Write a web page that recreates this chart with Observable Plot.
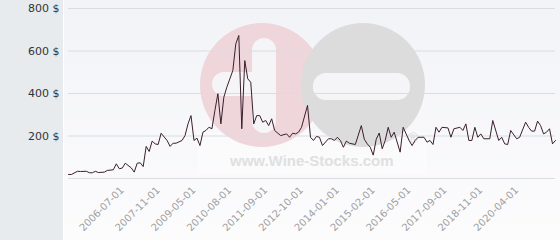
<!DOCTYPE html>
<html><head><meta charset="utf-8">
<script src="https://cdn.jsdelivr.net/npm/d3@7"></script>
<script src="https://cdn.jsdelivr.net/npm/@observablehq/plot@0.6"></script>
<style>
body{margin:0;background:#fff;font-family:"DejaVu Sans",sans-serif;}
#wrap{position:relative;width:560px;height:240px;overflow:hidden;}
#bg{position:absolute;left:0;top:0;width:560px;height:240px;}
#chart{position:absolute;left:0;top:0;}
</style></head><body>
<div id="wrap">
<svg id="bg" width="560" height="240">
  <defs><linearGradient id="g" x1="0" y1="0" x2="0" y2="1">
    <stop offset="0" stop-color="#f2f3f7"/><stop offset="1" stop-color="#fcfcfd"/></linearGradient></defs>
  <rect x="0" y="0" width="63" height="240" fill="#e7ebee"/>
  <rect x="64" y="0" width="496" height="240" fill="url(#g)"/>
  <rect x="197" y="132" width="230" height="42" fill="#ffffff" fill-opacity="0.3"/>
  <circle cx="262" cy="85" r="62" fill="#eed6db"/>
  <rect x="252" y="38" width="24" height="95" rx="12" fill="#f5f5f8"/>
  <rect x="212" y="72" width="52" height="24" rx="12" fill="#f5f5f8"/>
  <circle cx="363" cy="85" r="62" fill="#dcdcdd"/>
  <rect x="313" y="73" width="97" height="27" rx="13" fill="#f5f5f8"/>
  <text x="413" y="143" font-size="14" fill="#d8d8d8" text-anchor="middle" font-family="Liberation Sans">®</text>
  <text x="230" y="166" font-size="15" font-weight="bold" fill="#e0e0e0" font-family="Liberation Sans, Arial, sans-serif">www.Wine-Stocks.com</text>
</svg>
<div id="chart"></div>
</div>
<script>
// series position (observation number) and price in $
const idx = [0,1,3,4,6,7,8,9,10,12,13,15,16,17,18,19,21,22,23,24,25,26,27,28,29,30,31,33,34,35,36,38,39,40,41,42,43,44,45,46,47,48,49,50,51,52,53,55,56,57,58,59,60,61,62,63,64,65,66,67,68,69,71,73,74,75,76,77,78,80,81,82,83,84,85,87,88,89,90,91,92,93,94,96,98,99,100,101,102,103,104,105,106,107,108,109,111,112,114,115,116,117,119,120,121,122,123,124,125,127,128,129,131,132,133,134,135,136,137,138,139,141,142,144,145,146,147,148,150,151,153,154,155,156,157,158,159,160,161,162,163];
const price = [19,19,34,33,34,27,27,34,28,30,38,41,69,46,49,72,50,30,72,74,56,151,127,176,163,160,213,179,151,166,166,179,202,257,296,179,190,155,218,226,241,234,320,399,257,383,430,508,634,673,234,555,469,453,257,296,296,265,273,249,281,226,202,210,194,213,210,218,241,344,194,179,198,194,155,187,187,179,194,179,147,176,166,160,249,185,163,147,110,185,214,140,179,241,194,218,124,241,179,155,179,194,194,171,179,160,241,218,241,238,194,234,241,226,257,179,179,241,194,210,187,187,273,179,194,163,160,226,187,194,265,241,223,223,270,249,210,218,234,163,179];
const tickIdx = [18,30,42,54,66,78,90,102,114,126,138,150];
const tickLabels = ["2006-07-01","2007-11-01","2009-05-01","2010-08-01","2011-09-01","2012-10-01","2014-01-01","2015-02-01","2016-05-01","2017-09-01","2018-11-01","2020-04-01"];
const yTicks = [0,200,400,600,800];

const data = idx.map((i, k) => ({i, p: price[k]}));
const labelOf = new Map(tickIdx.map((t, k) => [t, tickLabels[k]]));

const chart = Plot.plot({
  width: 560, height: 240,
  marginLeft: 68, marginRight: 5, marginTop: 8, marginBottom: 62,
  style: {background: "transparent", fontFamily: "DejaVu Sans, sans-serif"},
  x: {domain: [0, 163]},
  y: {domain: [0, 800]},
  marks: [
    Plot.gridY(yTicks, {stroke: "#dcdcdf", strokeOpacity: 1}),
    Plot.axisY(yTicks.slice(1), {tickSize: 0, tickPadding: 9, fontSize: 11, fill: "#333", tickFormat: d => d + " $", label: null}),
    Plot.axisX(tickIdx, {tickSize: 0, tickPadding: 10, tickRotate: -45, fontSize: 10, fill: "#a0a0a0", tickFormat: d => labelOf.get(d), label: null}),
    Plot.line(data, {x: "i", y: "p", stroke: "#3b1f2b", strokeWidth: 1})
  ]
});
document.getElementById("chart").appendChild(chart);
</script>
</body></html>
